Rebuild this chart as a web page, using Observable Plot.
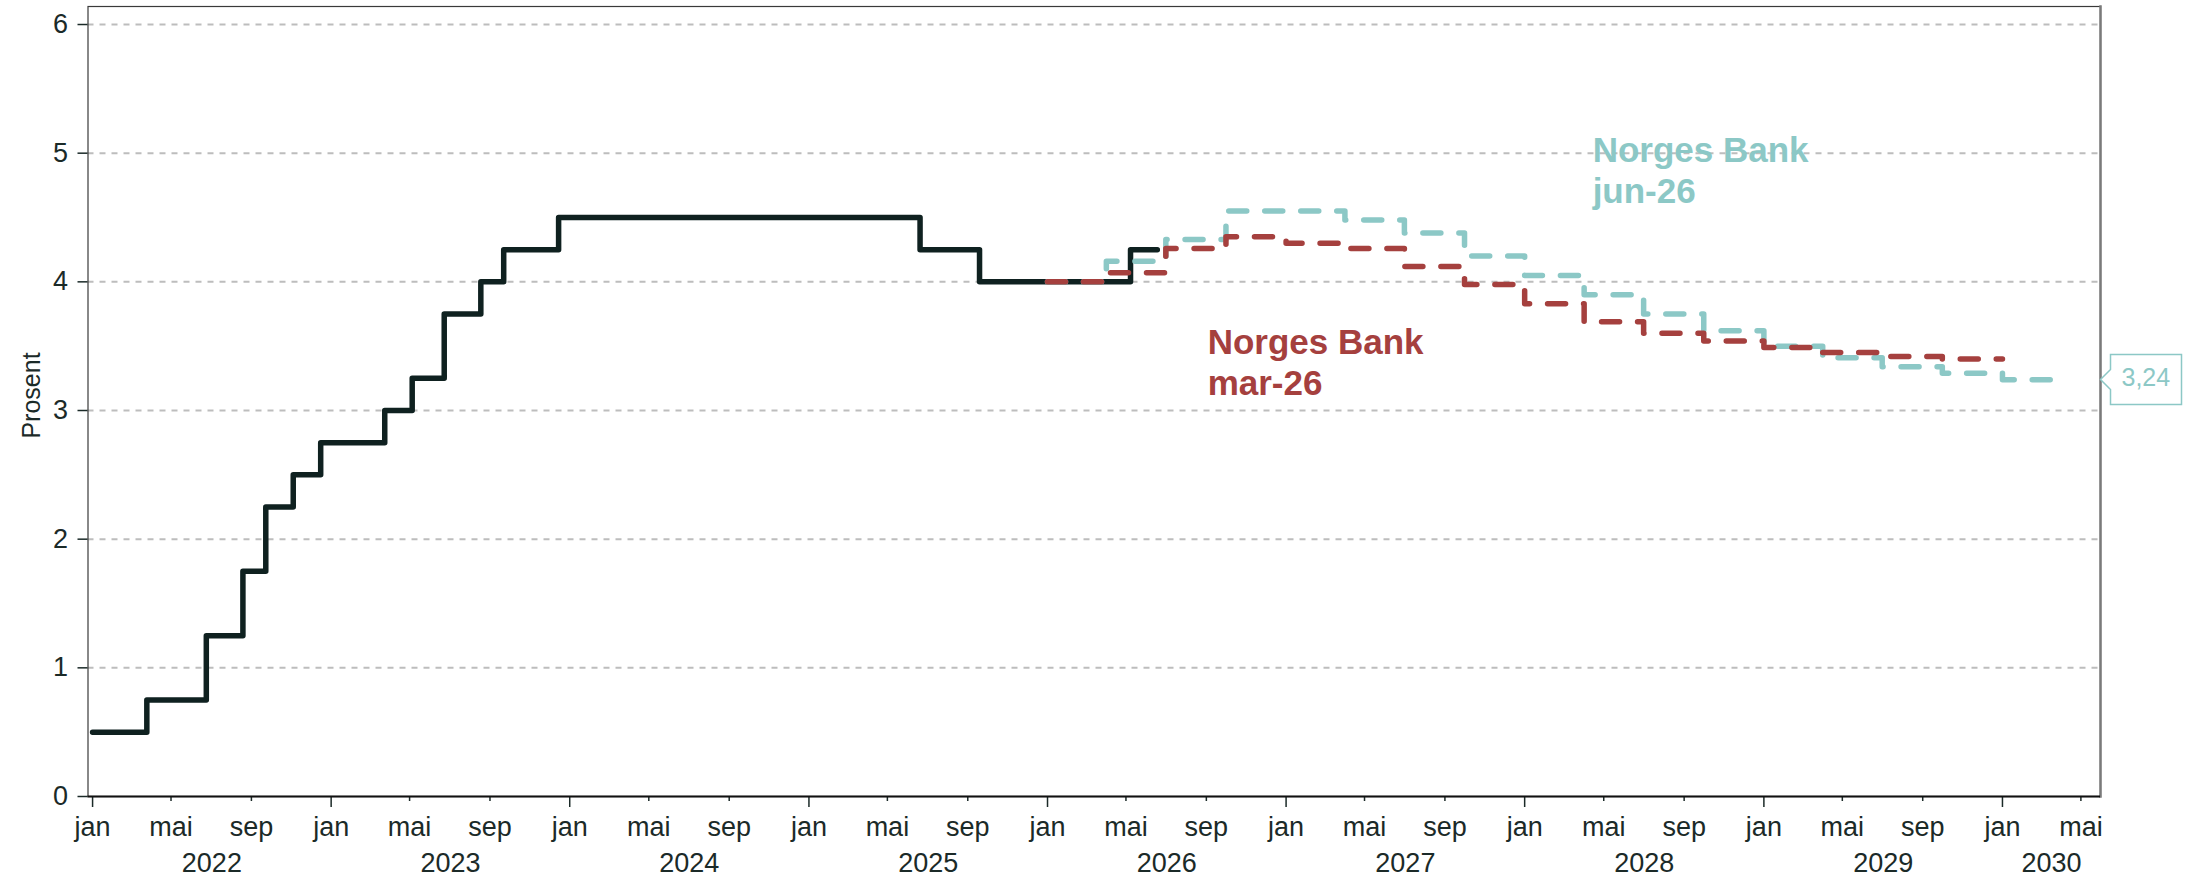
<!DOCTYPE html>
<html>
<head>
<meta charset="utf-8">
<script src="https://cdn.jsdelivr.net/npm/d3@7"></script>
<script src="https://cdn.jsdelivr.net/npm/@observablehq/plot@0.6"></script>
<style>
  html, body { margin: 0; padding: 0; background: #fff; }
  #chart svg { display: block; }
  g[aria-label="tip"] text, .callout text { fill: #8cc8c6 !important; stroke: none !important; }
</style>
</head>
<body>
<div id="chart"></div>
<script>
// ---- Data ----
// Styringsrenten (faktisk), trappetrinn
const policyDates = ["2022-01-01","2022-03-25","2022-06-24","2022-08-19","2022-09-23","2022-11-04","2022-12-16",
  "2023-03-24","2023-05-05","2023-06-23","2023-08-18","2023-09-22","2023-12-15",
  "2025-06-20","2025-09-19","2026-05-08","2026-06-18"];
const policyRates = [0.50,0.75,1.25,1.75,2.25,2.50,2.75,3.00,3.25,3.75,4.00,4.25,4.50,4.25,4.00,4.25,4.25];

// Kvartalsvise rentebaner
const quarterDates = ["2026-01-01","2026-04-01","2026-07-01","2026-10-01",
  "2027-01-01","2027-04-01","2027-07-01","2027-10-01",
  "2028-01-01","2028-04-01","2028-07-01","2028-10-01",
  "2029-01-01","2029-04-01","2029-07-01","2029-10-01",
  "2030-01-01","2030-04-01"];
// Norges Bank mar-26 (ends 2030-01-01)
const pathMar26 = [4.00,4.07,4.26,4.35,4.30,4.26,4.12,3.98,3.83,3.69,3.60,3.54,3.49,3.45,3.42,3.40,3.40];
// Norges Bank jun-26 (ends 2030-04-01)
const pathJun26 = [4.00,4.16,4.33,4.55,4.55,4.48,4.38,4.20,4.05,3.90,3.75,3.62,3.50,3.41,3.34,3.29,3.24,3.24];

// Axis ticks / labels
const yTicks = [0,1,2,3,4,5,6];
const monthNames = ["jan","feb","mar","apr","mai","jun","jul","aug","sep","okt","nov","des"];
const years = [2022,2023,2024,2025,2026,2027,2028,2029,2030];
const yLabel = "Prosent";

// Annotations
const seriesLabels = ["Norges Bank\nmar-26", "Norges Bank\njun-26"];
const seriesLabelDates = ["2026-09-03", "2028-04-14"];
const seriesLabelY = [3.67, 5.16];
const lastValueLabel = "3,24";

// ---- Build ----
const parse = d3.utcParse("%Y-%m-%d");
const xDomain = [parse("2021-12-25"), parse("2030-05-31")];

const policy = policyDates.map((d, i) => ({date: parse(d), value: policyRates[i]}));
const mar26 = pathMar26.map((v, i) => ({date: parse(quarterDates[i]), value: v}));
const jun26 = pathJun26.map((v, i) => ({date: parse(quarterDates[i]), value: v}));

const allMonthTicks = d3.utcMonth.every(4).range(parse("2022-01-01"), parse("2030-06-01"));
const janTicks = allMonthTicks.filter(d => d.getUTCMonth() === 0);
const minorTicks = allMonthTicks.filter(d => d.getUTCMonth() !== 0);
const yearMids = years.map(y => {
  const a = Math.max(+new Date(Date.UTC(y, 0, 1)), +xDomain[0]);
  const b = Math.min(+new Date(Date.UTC(y + 1, 0, 1)), +xDomain[1]);
  return new Date((a + b) / 2);
});

const labels = seriesLabels.map((t, i) => ({text: t, date: parse(seriesLabelDates[i]), value: seriesLabelY[i]}));
const tipData = [{date: xDomain[1], value: pathJun26[pathJun26.length - 1], text: lastValueLabel}];

const RED = "#a5403e";
const TEAL = "#8cc8c6";
const DARK = "#0f2120";
const TXT = "#1b2a28";
const FS = 27;

const plot = Plot.plot({
  width: 2203,
  height: 877,
  marginLeft: 87.5,
  marginRight: 103,
  marginTop: 6,
  marginBottom: 81,
  style: {fontFamily: "'Liberation Sans', Arial, Helvetica, sans-serif", fontSize: FS + "px", color: TXT, background: "#fff", overflow: "visible"},
  x: {type: "utc", domain: xDomain},
  y: {domain: [0, 6.14]},
  marks: [
    Plot.gridY(yTicks.filter(d => d > 0), {stroke: "#bdbdbd", strokeOpacity: 1, strokeWidth: 2, strokeDasharray: "6,6"}),
    Plot.frame({stroke: "#3a3a3a", strokeWidth: 1.2}),
    Plot.frame({anchor: "right", stroke: "#7a7a7a", strokeWidth: 2.5}),
    Plot.axisY(yTicks, {tickSize: 10, tickPadding: 10, fontSize: FS, strokeWidth: 1.5, label: null, tickFormat: d => String(d)}),
    Plot.axisX(janTicks, {tickSize: 11, tickPadding: 9, fontSize: FS, strokeWidth: 1.5, label: null, tickFormat: d => monthNames[d.getUTCMonth()]}),
    Plot.axisX(minorTicks, {tickSize: 5, tickPadding: 15, fontSize: FS, strokeWidth: 1.5, label: null, tickFormat: d => monthNames[d.getUTCMonth()]}),
    Plot.axisX(yearMids, {tickSize: 0, tickPadding: 56, fontSize: FS, label: null, tickFormat: d => String(years[yearMids.indexOf(d)])}),
    Plot.ruleY([0], {stroke: "#111", strokeWidth: 2}),
    Plot.text([yLabel], {frameAnchor: "left", text: d => d, rotate: -90, textAnchor: "middle", lineAnchor: "middle",
      dx: -56.5, dy: -6, fontSize: 25, fill: TXT}),
    Plot.line(policy, {x: "date", y: "value", curve: "step-after", stroke: DARK, strokeWidth: 5.5}),
    Plot.line(jun26, {x: "date", y: "value", curve: "step-after", stroke: TEAL, strokeWidth: 5.5, strokeDasharray: "18,18"}),
    Plot.line(mar26, {x: "date", y: "value", curve: "step-after", stroke: RED, strokeWidth: 5.5, strokeDasharray: "18,18"}),
    Plot.text(labels, {x: "date", y: "value", text: "text", textAnchor: "start", lineAnchor: "top", lineHeight: 1.18,
      fontSize: 35, fontWeight: "bold", fill: (d, i) => i === 0 ? RED : TEAL}),
    Plot.tip(tipData, {x: "date", y: "value", title: "text", anchor: "left", fill: "white", stroke: TEAL, strokeWidth: 1.5,
      fontSize: 25, lineHeight: 1.05, textPadding: 11, pointerSize: 20, pathFilter: "none", className: "callout"})
  ]
});
document.getElementById("chart").appendChild(plot);
</script>
</body>
</html>
